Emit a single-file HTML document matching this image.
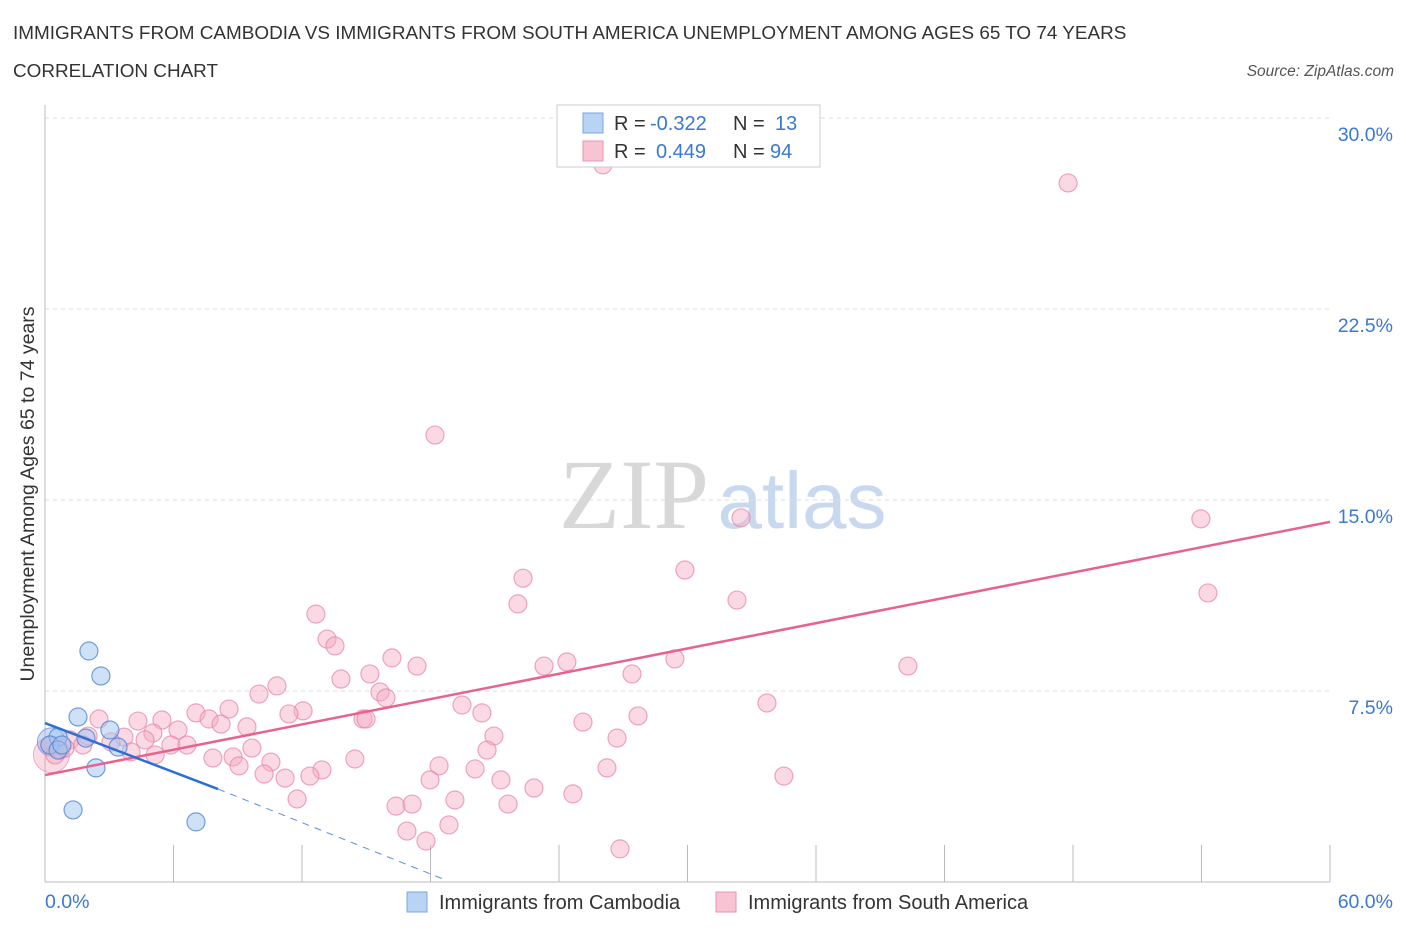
<!DOCTYPE html>
<html><head><meta charset="utf-8"><style>
body{margin:0;background:#fff;font-family:"Liberation Sans",sans-serif;}
svg text{font-family:"Liberation Sans",sans-serif;}
</style></head><body>
<svg id="chart" width="1406" height="930" xmlns="http://www.w3.org/2000/svg">
<text x="13" y="39" font-size="18.9" fill="#333">IMMIGRANTS FROM CAMBODIA VS IMMIGRANTS FROM SOUTH AMERICA UNEMPLOYMENT AMONG AGES 65 TO 74 YEARS</text>
<text x="13" y="77" font-size="18.9" fill="#333">CORRELATION CHART</text>
<text x="1394" y="76" font-size="15.5" fill="#555" font-style="italic" text-anchor="end">Source: ZipAtlas.com</text>
<text x="634" y="528" font-size="100" fill="#d8d8d8" text-anchor="middle" style="font-family:'Liberation Serif',serif">ZIP</text>
<text x="802" y="528" font-size="80" fill="#c8d9ef" text-anchor="middle">atlas</text>
<text transform="translate(34,494) rotate(-90)" font-size="19.5" fill="#333" text-anchor="middle">Unemployment Among Ages 65 to 74 years</text>
<g id="grid"></g><g id="axes"></g><g id="marks"></g>
<g>
<rect x="557" y="105" width="263" height="62" fill="#fff" stroke="#ccc"/>
<rect x="583" y="113" width="20" height="20" fill="#b9d3f5" stroke="#7aa6e0"/>
<rect x="583" y="141" width="20" height="20" fill="#f8c3d3" stroke="#e995b0"/>
<text x="614" y="130" font-size="20" fill="#333">R =</text>
<text x="650" y="130" font-size="20" fill="#3b78d4">-0.322</text>
<text x="733" y="130" font-size="20" fill="#333">N =</text>
<text x="775" y="130" font-size="20" fill="#3b78d4">13</text>
<text x="614" y="158" font-size="20" fill="#333">R =</text>
<text x="656" y="158" font-size="20" fill="#3b78d4">0.449</text>
<text x="733" y="158" font-size="20" fill="#333">N =</text>
<text x="770" y="158" font-size="20" fill="#3b78d4">94</text>
</g>
<g>
<rect x="407" y="892" width="20" height="20" fill="#b9d3f5" stroke="#7aa6e0"/>
<text x="439" y="909" font-size="20" fill="#333">Immigrants from Cambodia</text>
<rect x="716" y="892" width="20" height="20" fill="#f8c3d3" stroke="#e995b0"/>
<text x="748" y="909" font-size="20" fill="#333">Immigrants from South America</text>
</g>
</svg>
<script>
const yTicks=[7.5,15,22.5,30];
const yTickLabels=["7.5%","15.0%","22.5%","30.0%"];
const xTicks=[0,6,12,18,24,30,36,42,48,54,60];
const pinkX=[26.05,47.77,18.21,32.50,53.97,22.32,29.88,22.08,32.31,54.30,12.65,13.17,13.54,16.20,17.37,23.30,24.37,29.41,40.29,13.82,15.17,27.41,10.83,9.99,15.64,15.92,33.71,19.47,8.59,7.05,14.85,14.99,20.40,27.69,12.05,11.39,2.52,4.34,5.46,7.66,8.22,9.43,25.12,20.96,26.71,6.21,5.04,3.69,2.01,3.08,1.17,1.77,4.67,5.88,6.63,9.66,20.64,14.47,7.84,5.14,4.02,8.78,10.55,9.06,18.40,20.08,26.24,10.23,12.93,12.37,11.21,17.98,21.29,34.50,22.83,24.65,19.14,11.77,16.39,17.14,21.62,16.90,18.86,17.79,26.85,0.23,0.47,0.70,0.93];
const pinkY=[28.16,27.45,17.55,14.30,14.26,11.93,12.25,10.92,11.07,11.35,10.52,9.54,9.27,8.80,8.48,8.48,8.64,8.76,8.48,7.97,8.17,8.17,7.70,7.38,7.46,7.23,7.03,6.95,6.79,6.64,6.40,6.40,6.64,6.52,6.72,6.60,6.40,6.32,6.36,6.40,6.20,6.09,6.28,5.73,5.65,5.97,5.85,5.69,5.73,5.50,5.58,5.38,5.58,5.38,5.38,5.26,5.18,4.83,4.87,4.99,5.11,4.91,4.71,4.56,4.56,4.44,4.48,4.24,4.40,4.16,4.08,4.01,4.01,4.16,3.69,3.46,3.22,3.26,2.98,3.06,3.06,2.00,2.24,1.61,1.30,5.38,4.99,5.18,5.26];
const blueX=[2.05,2.61,1.54,3.03,0.61,1.91,3.41,2.38,1.31,7.05,0.23,0.61,0.79];
const blueY=[9.07,8.09,6.48,5.97,5.69,5.65,5.30,4.48,2.83,2.36,5.38,5.18,5.38];
const pinkTrendX=[0,60], pinkTrendY=[4.20,14.14];
const blueTrendX=[0,8.08,18.7], blueTrendY=[6.24,3.65,0.08];

const X=v=>45+v/60*1285, Y=v=>882-v/30*764;
const NS="http://www.w3.org/2000/svg";
function mk(p,t,a){const e=document.createElementNS(NS,t);for(const k in a)e.setAttribute(k,a[k]);p.appendChild(e);return e;}
const grid=document.getElementById('grid'),axes=document.getElementById('axes'),marks=document.getElementById('marks');
yTicks.forEach((t,i)=>{
 const l=mk(grid,'line',{x1:45,x2:1330,y1:Y(t),y2:Y(t),stroke:'#ddd','stroke-dasharray':'4,4'});
 
 
 const tx=mk(grid,'text',{x:1393,y:Y(t)+23,'font-size':19.5,fill:'#3b78d4','text-anchor':'end'});
 tx.textContent=yTickLabels[i];
 
 
});
const ya=mk(axes,'line',{x1:45,x2:45,y1:105,y2:882,stroke:'#bbb'});


const xa=mk(axes,'line',{x1:45,x2:1330,y1:882,y2:882,stroke:'#bbb'});


xTicks.forEach(t=>{
 const l=mk(axes,'line',{x1:X(t),x2:X(t),y1:882,y2:t===0?882:845,stroke:'#bbb'});
 
 
});
const x0=mk(axes,'text',{x:45,y:908,'font-size':19.5,fill:'#3b78d4'});x0.textContent='0.0%';


const x1=mk(axes,'text',{x:1393,y:908,'font-size':19.5,fill:'#3b78d4','text-anchor':'end'});x1.textContent='60.0%';


const bp=mk(marks,'circle',{cx:X(0.3),cy:Y(5.0),r:18,fill:'rgba(240,150,180,0.35)',stroke:'rgba(230,130,165,0.6)'});


const bb=mk(marks,'circle',{cx:X(0.3),cy:Y(5.5),r:14,fill:'rgba(150,180,235,0.45)',stroke:'rgba(90,140,220,0.7)'});


pinkX.forEach((v,i)=>{
 const c=mk(marks,'circle',{cx:X(v),cy:Y(pinkY[i]),r:9,fill:'rgba(245,170,195,0.45)',stroke:'rgba(232,130,165,0.7)','stroke-width':1.2});
 
 
});
blueX.forEach((v,i)=>{
 const c=mk(marks,'circle',{cx:X(v),cy:Y(blueY[i]),r:9,fill:'rgba(160,195,240,0.5)',stroke:'rgba(80,135,215,0.8)','stroke-width':1.2});
 
 
});
const pl=mk(marks,'line',{x1:X(pinkTrendX[0]),y1:Y(pinkTrendY[0]),x2:X(pinkTrendX[1]),y2:Y(pinkTrendY[1]),stroke:'#e8628f','stroke-width':2.5});


const bl=mk(marks,'line',{x1:X(blueTrendX[0]),y1:Y(blueTrendY[0]),x2:X(blueTrendX[1]),y2:Y(blueTrendY[1]),stroke:'#2c6fd6','stroke-width':2.5});


const bd=mk(marks,'line',{x1:X(blueTrendX[1]),y1:Y(blueTrendY[1]),x2:X(blueTrendX[2]),y2:Y(blueTrendY[2]),stroke:'#5a8fe0','stroke-width':1,'stroke-dasharray':'7,6'});


</script>
</body></html>
